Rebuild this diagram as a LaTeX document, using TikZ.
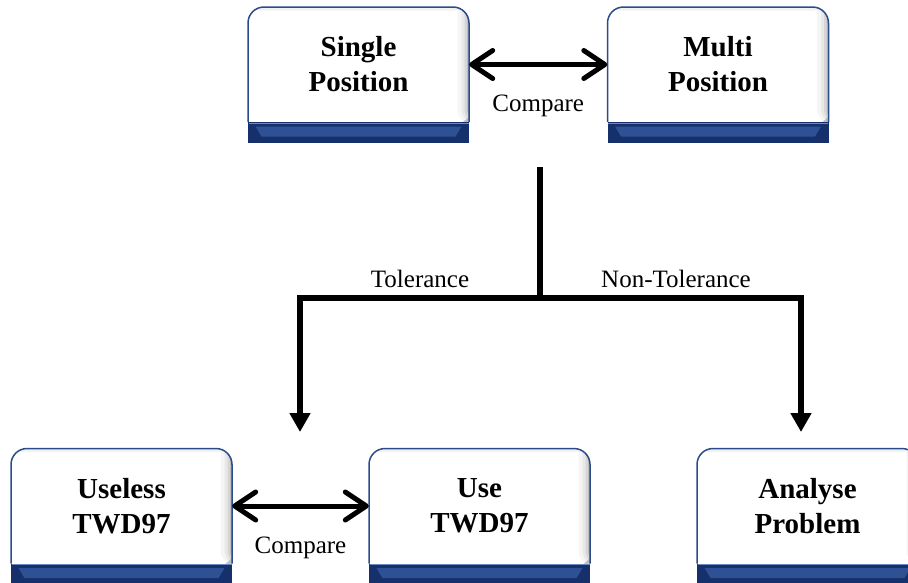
\documentclass[tikz,border=0pt]{standalone}
\usepackage{fontspec}
\setmainfont{Liberation Serif}
\usetikzlibrary{arrows.meta}
\definecolor{boxline}{HTML}{2B4C8C}
\definecolor{banddark}{HTML}{15306A}
\definecolor{bandmid}{HTML}{2E5195}
\definecolor{bandlight}{HTML}{6A89C4}
\tikzset{
  boxtext/.style={minimum width=221pt, minimum height=115pt, inner sep=0pt, align=center,
    font=\fontsize{29}{35}\selectfont\bfseries},
  boxshape/.style={draw=boxline, line width=1.5pt, fill=white, rounded corners=16pt},
  lbl/.style={font=\fontsize{25}{30}\selectfont, inner sep=0pt},
  cmparrow/.style={line width=5pt,
    {Straight Barb[length=21pt,width=28pt,round]}-{Straight Barb[length=21pt,width=28pt,round]}},
  tline/.style={line width=6pt},
  tarrow/.style={line width=6pt, miter limit=4, -{Triangle[length=19pt,width=20pt]}},
}
% #1 name, #2 centre x, #3 centre y of white area, #4 text
\newcommand\flowbox[4]{%
  \path[boxshape, path picture={
      \fill[black!4] (#2+99,#3-80) rectangle (#2+112,#3+60);
      \fill[black!9] (#2+103,#3-80) rectangle (#2+112,#3+60);
      \fill[black!16] (#2+106,#3-80) rectangle (#2+112,#3+60);
      \fill[black!26] (#2+108.5,#3-80) rectangle (#2+112,#3+60);
      \fill[black!5] (#2-112,#3-57) rectangle (#2+112,#3-54);}]
    (#2-110.5,#3+57.5) -- (#2-110.5,#3-57.5) -- (#2+110.5,#3-57.5) -- (#2+110.5,#3+57.5);
  \fill[banddark] (#2-110.5,#3+57.5) rectangle (#2+110.5,#3+78.5);
  \fill[bandmid] (#2-103,#3+62) -- (#2+103,#3+62) -- (#2+97,#3+72) -- (#2-97,#3+72) -- cycle;
  \draw[bandlight, line width=1pt] (#2-110,#3+58.5) -- (#2+110,#3+58.5);
  \node[boxtext] (#1) at (#2,#3) {#4};
}
\begin{document}
\begin{tikzpicture}[x=1pt, y=-1pt]
  \useasboundingbox (0,0) rectangle (908,582);
  \clip (0,0) rectangle (908,582);
  \flowbox{single}{358.5}{64.5}{Single\\Position}
  \flowbox{multi}{718}{64.5}{Multi\\Position}
  \flowbox{useless}{121.5}{506}{Useless\\TWD97}
  \flowbox{use}{479.5}{506}{Use\\TWD97}
  \flowbox{analyse}{807.5}{506}{Analyse\\Problem}

  \draw[cmparrow] (single) -- node[lbl, midway, yshift=-41pt] (cmptop) {Compare} (multi);
  \draw[cmparrow] (useless) -- node[lbl, midway, yshift=-42pt] (cmpbot) {Compare} (use);

  \coordinate (vtop) at (540,167);
  \coordinate (junction) at (540,298);
  \coordinate (tolend) at (300,432);
  \coordinate (ntolend) at (801,432);
  \draw[tline] (vtop) -- ([yshift=-3pt]junction);
  \draw[tarrow] (junction) -| (tolend);
  \draw[tarrow] (junction) -| (ntolend);

  \node[lbl] (tol) at (420,279) {Tolerance};
  \node[lbl] (ntol) at (676,279) {Non-Tolerance};
\end{tikzpicture}
\end{document}
